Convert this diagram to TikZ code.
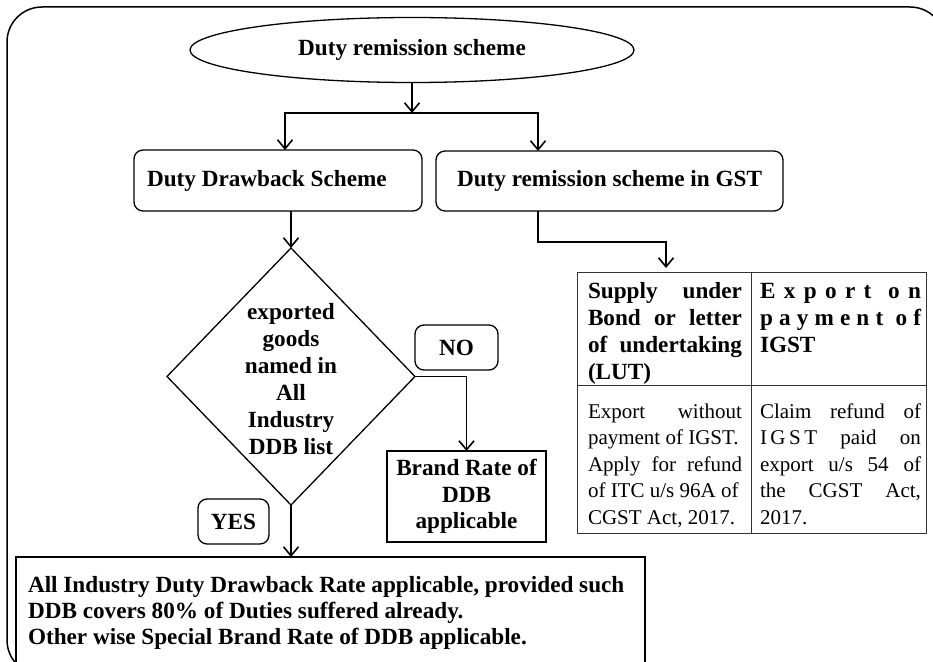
\documentclass[tikz,border=0pt]{standalone}
\usepackage{fontspec}
\setmainfont{Liberation Serif}
\usetikzlibrary{shapes.geometric,arrows.meta,calc}
\newcommand{\js}[2]{{\spaceskip=0pt\xspaceskip=0pt\makebox[#1][s]{#2}}}
\begin{document}
\begin{tikzpicture}[x=1pt,y=-1pt,
  every node/.style={inner sep=0pt, outer sep=0pt},
  ln/.style={line width=1.3pt},
  arr/.style={ln, -{Straight Barb[length=9pt,width=15pt,line width=1.6pt]}},
  bf/.style={font=\fontsize{23.2}{27}\selectfont\bfseries},
  rg/.style={font=\fontsize{21}{26.5}\selectfont},
  rbox/.style={draw, ln, rounded corners=9pt, bf},
  sbox/.style={draw, ln, bf},
  tline/.style={line width=1pt, draw=black!80}
]
\useasboundingbox (0,0) rectangle (933,661);
\clip (0,0) rectangle (933,661);
\draw[line width=1.5pt, rounded corners=35pt] (7,7) rectangle (945,675);

% nodes
\node[ellipse, draw, ln, minimum width=444pt, minimum height=65pt, bf] (top) at (412,50) {Duty remission scheme};
\node[rbox, minimum width=288pt, minimum height=61pt, text width=262pt, inner xsep=13pt, align=flush left] (ddb) at (278,180.5) {Duty Drawback Scheme};
\node[rbox, minimum width=347pt, minimum height=60pt, text width=317pt, inner xsep=15pt, align=flush left] (gst) at (609.5,181) {\hspace*{6pt}Duty remission scheme in GST};

\node[diamond, draw, ln, minimum width=248pt, minimum height=257pt] (dia) at (291,376.5) {};
\node[bf, align=flush center, text width=130pt] (diatext) at (291,379) {exported\\goods\\named in\\All\\Industry\\DDB list};

\node[rbox, minimum width=83pt, minimum height=45pt] (no) at (456.5,347.5) {NO};
\node[sbox, minimum width=159pt, minimum height=91pt, align=flush center, font=\fontsize{23.2}{26.5}\selectfont\bfseries] (brand) at (466.5,496.5) {Brand Rate of\\DDB\\applicable};
\node[rbox, minimum width=71pt, minimum height=45pt] (yes) at (233.5,521.5) {YES};

\node[draw, ln, minimum width=629pt, minimum height=150pt, anchor=north west] (bot) at (16,557) {};
\node[anchor=base west, text width=615pt, align=flush left, font=\fontsize{23.2}{26}\selectfont\bfseries] (bottxt) at (28,592) {All Industry Duty Drawback Rate applicable, provided such\\DDB covers 80\% of Duties suffered already.\\Other wise Special Brand Rate of DDB applicable.};

% table
\node[draw, tline, minimum width=349pt, minimum height=261pt, anchor=north west] (tbl) at (577,272) {};
\draw[tline] (tbl.north) -- (tbl.south);
\draw[tline] ($(tbl.north west)+(0,113)$) -- ($(tbl.north east)+(0,113)$);

\node[bf, anchor=base west, text width=154pt, align=flush left] (h1) at (588,298) {\js{154pt}{Supply under}\\\js{154pt}{Bond or letter}\\\js{154pt}{of undertaking}\\(LUT)};
\node[bf, anchor=base west, text width=161pt, align=flush left] (h2) at (760,298) {\makebox[161pt][s]{E\hfill x\hfill p\hfill o\hfill r\hfill t\hfill\hfill o\hfill n}\\\makebox[161pt][s]{p\hfill a\hfill y\hfill m\hfill e\hfill n\hfill t\hfill\hfill o\hfill f}\\IGST};
\node[rg, anchor=base west, text width=156pt, align=flush left] (b1) at (588,418) {\js{154pt}{Export without}\\payment of IGST.\\\js{154pt}{Apply for refund}\\of ITC u/s 96A of\\CGST Act, 2017.};
\node[rg, anchor=base west, text width=161pt, align=flush left] (b2) at (760,418) {\js{161pt}{Claim refund of}\\\js{161pt}{I\,G\,S\,T paid on}\\\js{161pt}{export u/s 54 of}\\\js{161pt}{the CGST Act,}\\2017.};

% connectors
\coordinate (j) at (412,113);
\draw[arr] (top.south) -- (j);
\draw[arr] (j) -| ([xshift=7pt]ddb.north);
\draw[arr] (j) -| ([xshift=-71.5pt]gst.north);
\draw[arr] (dia.north |- ddb.south) -- (dia.north);
\draw[arr, shorten >=4pt] ([xshift=-71.5pt]gst.south) -- ++(0,31) -| ([xshift=-85.5pt]tbl.north);
\draw[arr] (dia.east) -| (brand.north);
\draw[arr] (dia.south) -- (dia.south |- bot.north);
\end{tikzpicture}
\end{document}
